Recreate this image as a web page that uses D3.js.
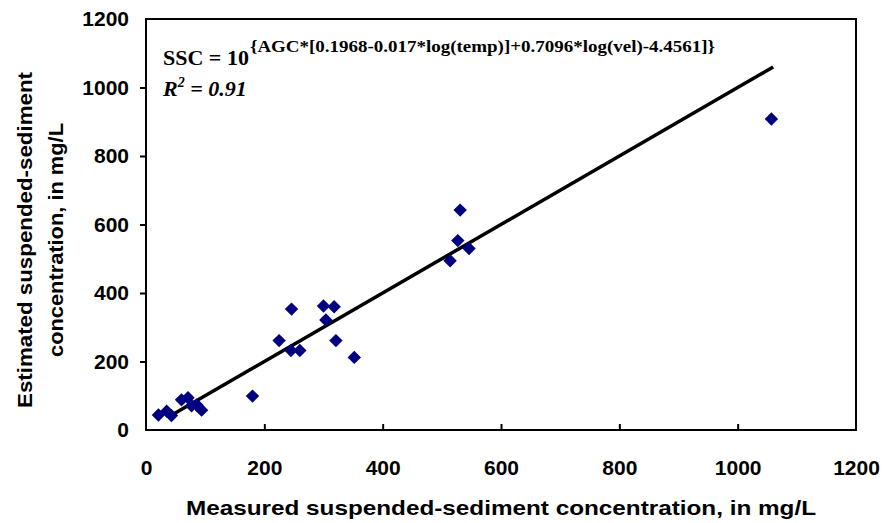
<!DOCTYPE html>
<html>
<head>
<meta charset="utf-8">
<script src="https://cdn.jsdelivr.net/npm/d3@7"></script>
<style>
  body { margin: 0; background: #fff; }
  .tick text { font-family: "Liberation Sans", Arial, sans-serif; font-weight: bold; font-size: 21px; fill: #000; }
</style>
</head>
<body>
<div class="scatter"></div>
<script>
// Measured vs estimated SSC (mg/L)
var measured  = [21, 35, 43, 60, 71, 77, 86, 94, 180, 225, 246, 245, 260, 300, 304, 318, 321, 352, 514, 527, 531, 546, 1057];
var estimated = [44, 55, 42, 88, 94, 71, 73, 58, 99, 261, 353, 232, 232, 362, 321, 360, 261, 212, 494, 553, 642, 530, 908];
// 1:1 fit line end points
var lineX = [40, 1060];
var xTicks = [0, 200, 400, 600, 800, 1000, 1200];
var yTicks = [0, 200, 400, 600, 800, 1000, 1200];

var w = 883;
var h = 523;
var padL = 146, padR = 856, padT = 19, padB = 430;

var svg = d3.select(".scatter")
    .append("svg")
    .attr("width", w)
    .attr("height", h);

var xScale = d3.scaleLinear().domain([0, 1200]).range([padL, padR]);
var yScale = d3.scaleLinear().domain([0, 1200]).range([padB, padT]);

//Axes
var xAxis = d3.axisBottom(xScale).tickValues(xTicks).tickFormat(d3.format("d"))
    .tickSizeInner(-6).tickSizeOuter(0).tickPadding(30);
svg.append("g")
    .attr("transform", "translate(0," + padB + ")")
    .call(xAxis)
    .call(g => g.select(".domain").remove())
    .call(g => g.selectAll("line").attr("stroke", "#000").attr("stroke-width", 2))
    .call(g => g.selectAll(".tick").filter(d => d == 0 || d == 1200).select("line").remove());

var yAxis = d3.axisLeft(yScale).tickValues(yTicks).tickFormat(d3.format("d"))
    .tickSizeInner(6).tickSizeOuter(0).tickPadding(11);
svg.append("g")
    .attr("transform", "translate(" + padL + ",0)")
    .call(yAxis)
    .call(g => g.select(".domain").remove())
    .call(g => g.selectAll("line").attr("stroke", "#000").attr("stroke-width", 2))
    .call(g => g.selectAll(".tick").filter(d => d == 0 || d == 1200).select("line").remove());

//Frame
svg.append("rect")
    .attr("x", padL)
    .attr("y", padT)
    .attr("width", padR - padL)
    .attr("height", padB - padT)
    .attr("fill", "none")
    .attr("stroke", "#000")
    .attr("stroke-width", 2);

//Fit line
svg.append("line")
    .attr("x1", xScale(lineX[0]))
    .attr("y1", yScale(lineX[0]))
    .attr("x2", xScale(lineX[1]))
    .attr("y2", yScale(lineX[1]))
    .attr("stroke", "#000")
    .attr("stroke-width", 3.5);

//Points
var diamond = d3.symbol().type(d3.symbolSquare).size(90);
svg.selectAll("path.pt")
    .data(measured)
    .enter()
    .append("path")
    .attr("class", "pt")
    .attr("d", diamond)
    .attr("transform", (d, i) => "translate(" + xScale(d) + "," + yScale(estimated[i]) + ") rotate(45)")
    .attr("fill", "#000080");

//Equation
var serif = "'Liberation Serif', 'Times New Roman', serif";
var ssc = svg.append("text")
    .attr("x", 163)
    .attr("y", 65)
    .attr("font-family", serif)
    .attr("font-weight", "bold")
    .attr("font-size", 22)
    .text("SSC = 10");
var supX = 163 + ssc.node().getComputedTextLength() + 1;
svg.append("text")
    .attr("x", supX)
    .attr("y", 52)
    .attr("font-family", serif)
    .attr("font-weight", "bold")
    .attr("font-size", 16)
    .attr("textLength", 715 - supX)
    .attr("lengthAdjust", "spacingAndGlyphs")
    .text("{AGC*[0.1968-0.017*log(temp)]+0.7096*log(vel)-4.4561]}");

var r2 = svg.append("text")
    .attr("x", 163)
    .attr("y", 96)
    .attr("font-family", serif)
    .attr("font-weight", "bold")
    .attr("font-style", "italic")
    .attr("font-size", 22);
r2.append("tspan").text("R");
r2.append("tspan").attr("dy", -9).attr("font-size", 14).text("2");
r2.append("tspan").attr("dy", 9).text(" = 0.91");

//Axis titles
svg.append("text")
    .attr("x", 501)
    .attr("y", 515)
    .attr("text-anchor", "middle")
    .attr("font-family", "'Liberation Sans', Arial, sans-serif")
    .attr("font-weight", "bold")
    .attr("font-size", 21)
    .attr("textLength", 630)
    .attr("lengthAdjust", "spacingAndGlyphs")
    .text("Measured suspended-sediment concentration, in mg/L");

var yt = svg.append("text")
    .attr("transform", "translate(32,240) rotate(-90)")
    .attr("text-anchor", "middle")
    .attr("font-family", "'Liberation Sans', Arial, sans-serif")
    .attr("font-weight", "bold")
    .attr("font-size", 21);
yt.append("tspan").attr("x", 0).attr("y", 0)
    .attr("textLength", 336).attr("lengthAdjust", "spacingAndGlyphs")
    .text("Estimated suspended-sediment");
yt.append("tspan").attr("x", 0).attr("y", 31)
    .attr("textLength", 234).attr("lengthAdjust", "spacingAndGlyphs")
    .text("concentration, in mg/L");
</script>
</body>
</html>
